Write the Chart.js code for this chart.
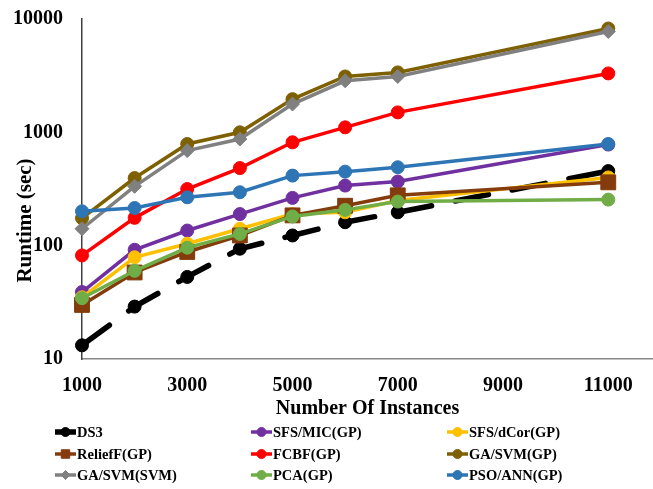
<!DOCTYPE html>
<html>
<head>
<meta charset="utf-8">
<script src="https://cdn.jsdelivr.net/npm/chart.js@4/dist/chart.umd.min.js"></script>
<style>
  html, body { margin: 0; padding: 0; background: #fff; }
  #wrap { width: 653px; height: 489px; }
</style>
</head>
<body>
<div id="wrap"><canvas id="c" width="653" height="489"></canvas></div>
<script>
// ---- data ----
const instances = [1000, 2000, 3000, 4000, 5000, 6000, 7000, 11000];
const seriesNames = ['DS3', 'SFS/MIC(GP)', 'SFS/dCor(GP)', 'ReliefF(GP)', 'FCBF(GP)', 'GA/SVM(GP)', 'GA/SVM(SVM)', 'PCA(GP)', 'PSO/ANN(GP)'];
const ds3       = [13.2, 29, 53, 94, 123, 161, 197, 455];
const sfsMic    = [39, 92, 136, 190, 264, 339, 368, 780];
const sfsDcor   = [35, 79, 104, 141, 190, 197, 250, 400];
const reliefF   = [30, 58, 88, 123, 185, 225, 278, 362];
const fcbf      = [82, 176, 316, 484, 817, 1107, 1500, 3311];
const gaSvmGp   = [175, 395, 789, 1000, 1963, 3112, 3380, 8240];
const gaSvmSvm  = [141, 334, 690, 873, 1775, 2850, 3112, 7760];
const pca       = [34.4, 60, 96, 127, 181, 207, 245, 255];
const psoAnn    = [201, 215, 267, 296, 415, 450, 492, 789];
const xTickValues = [1000, 3000, 5000, 7000, 9000, 11000];
const yTickValues = [10, 100, 1000, 10000];
const yTickLabels = ['10', '100', '1000', '10000'];

// ---- styles ----
const seriesValues = [ds3, sfsMic, sfsDcor, reliefF, fcbf, gaSvmGp, gaSvmSvm, pca, psoAnn];
const colors = ['#000000', '#7030A0', '#FFC000', '#843C0C', '#FF0000', '#7F6000', '#808080', '#70AD47', '#2E75B6'];
const markers = ['circle', 'circle', 'circle', 'rect', 'circle', 'circle', 'rectRot', 'circle', 'circle'];
const FONT = '"Liberation Serif", "Times New Roman", serif';

const datasets = seriesValues.map((vals, i) => ({
  label: seriesNames[i],
  data: instances.map((x, k) => ({ x: x, y: vals[k] })),
  borderColor: colors[i],
  backgroundColor: colors[i],
  pointBackgroundColor: colors[i],
  pointBorderColor: colors[i],
  borderWidth: i === 0 ? 5.5 : 3.5,
  borderDash: i === 0 ? [34, 24] : [],
  borderCapStyle: i === 0 ? 'round' : 'butt',
  pointStyle: markers[i],
  pointRadius: markers[i] === 'rect' ? 10.5 : (markers[i] === 'rectRot' ? 7 : 6.5),
  pointBorderWidth: 1,
  tension: 0,
  clip: false,
  order: seriesValues.length - i
}));

const legendColX = [55, 251, 447];
const legendRowY = [432, 454, 475];

const gridLegend = {
  id: 'gridLegend',
  afterDraw(chart) {
    const ctx = chart.ctx;
    ctx.save();
    chart.data.datasets.forEach((ds, i) => {
      const x = legendColX[i % 3];
      const y = legendRowY[Math.floor(i / 3)];
      ctx.setLineDash([]);
      ctx.strokeStyle = ds.borderColor;
      ctx.lineWidth = ds.borderWidth;
      ctx.lineCap = 'butt';
      ctx.beginPath();
      ctx.moveTo(x, y);
      ctx.lineTo(x + 21, y);
      ctx.stroke();
      ctx.fillStyle = ds.backgroundColor;
      ctx.lineWidth = 1;
      Chart.helpers.drawPoint(ctx, {
        pointStyle: ds.pointStyle,
        rotation: 0,
        radius: ds.pointStyle === 'rect' ? 6 : 4.5,
        borderWidth: 1
      }, x + 10.5, y);
      ctx.fillStyle = '#000';
      ctx.font = 'bold 14.5px ' + FONT;
      ctx.textAlign = 'left';
      ctx.textBaseline = 'middle';
      ctx.fillText(ds.label, x + 22, y + 1);
    });
    ctx.restore();
  }
};

new Chart(document.getElementById('c'), {
  type: 'line',
  data: { datasets: datasets },
  plugins: [gridLegend],
  options: {
    responsive: false,
    animation: false,
    layout: { autoPadding: false, padding: { left: 0, right: 0, top: 19, bottom: 68 } },
    plugins: {
      legend: { display: false },
      tooltip: { enabled: false }
    },
    scales: {
      x: {
        type: 'linear',
        min: 1000,
        max: 11850,
        afterBuildTicks: (scale) => { scale.ticks = xTickValues.map(v => ({ value: v })); },
        afterFit: (scale) => { scale.height = 62; scale.paddingLeft = 0; scale.paddingRight = 0; },
        grid: { display: false, drawTicks: false },
        border: { display: true, color: '#868686', width: 1.5 },
        ticks: {
          padding: 15,
          color: '#000',
          font: { family: FONT, size: 20, weight: 'bold' },
          maxRotation: 0,
          callback: (v) => String(v)
        },
        title: {
          display: true,
          text: 'Number Of Instances',
          color: '#000',
          font: { family: FONT, size: 20, weight: 'bold' },
          padding: { top: 0, bottom: 0 }
        }
      },
      y: {
        type: 'logarithmic',
        min: 10,
        max: 10000,
        afterBuildTicks: (scale) => { scale.ticks = yTickValues.map(v => ({ value: v })); },
        afterFit: (scale) => { scale.width = 82; scale.paddingTop = 0; scale.paddingBottom = 0; },
        grid: { display: false, drawTicks: false },
        border: { display: true, color: '#404040', width: 1.5 },
        ticks: {
          padding: 19,
          color: '#000',
          font: { family: FONT, size: 20, weight: 'bold' },
          callback: (v) => { const k = yTickValues.indexOf(v); return k >= 0 ? yTickLabels[k] : ''; }
        },
        title: {
          display: true,
          text: 'Runtime (sec)            ',
          color: '#000',
          font: { family: FONT, size: 21, weight: 'bold' },
          padding: { top: 13, bottom: 0 }
        }
      }
    }
  }
});
</script>
</body>
</html>
